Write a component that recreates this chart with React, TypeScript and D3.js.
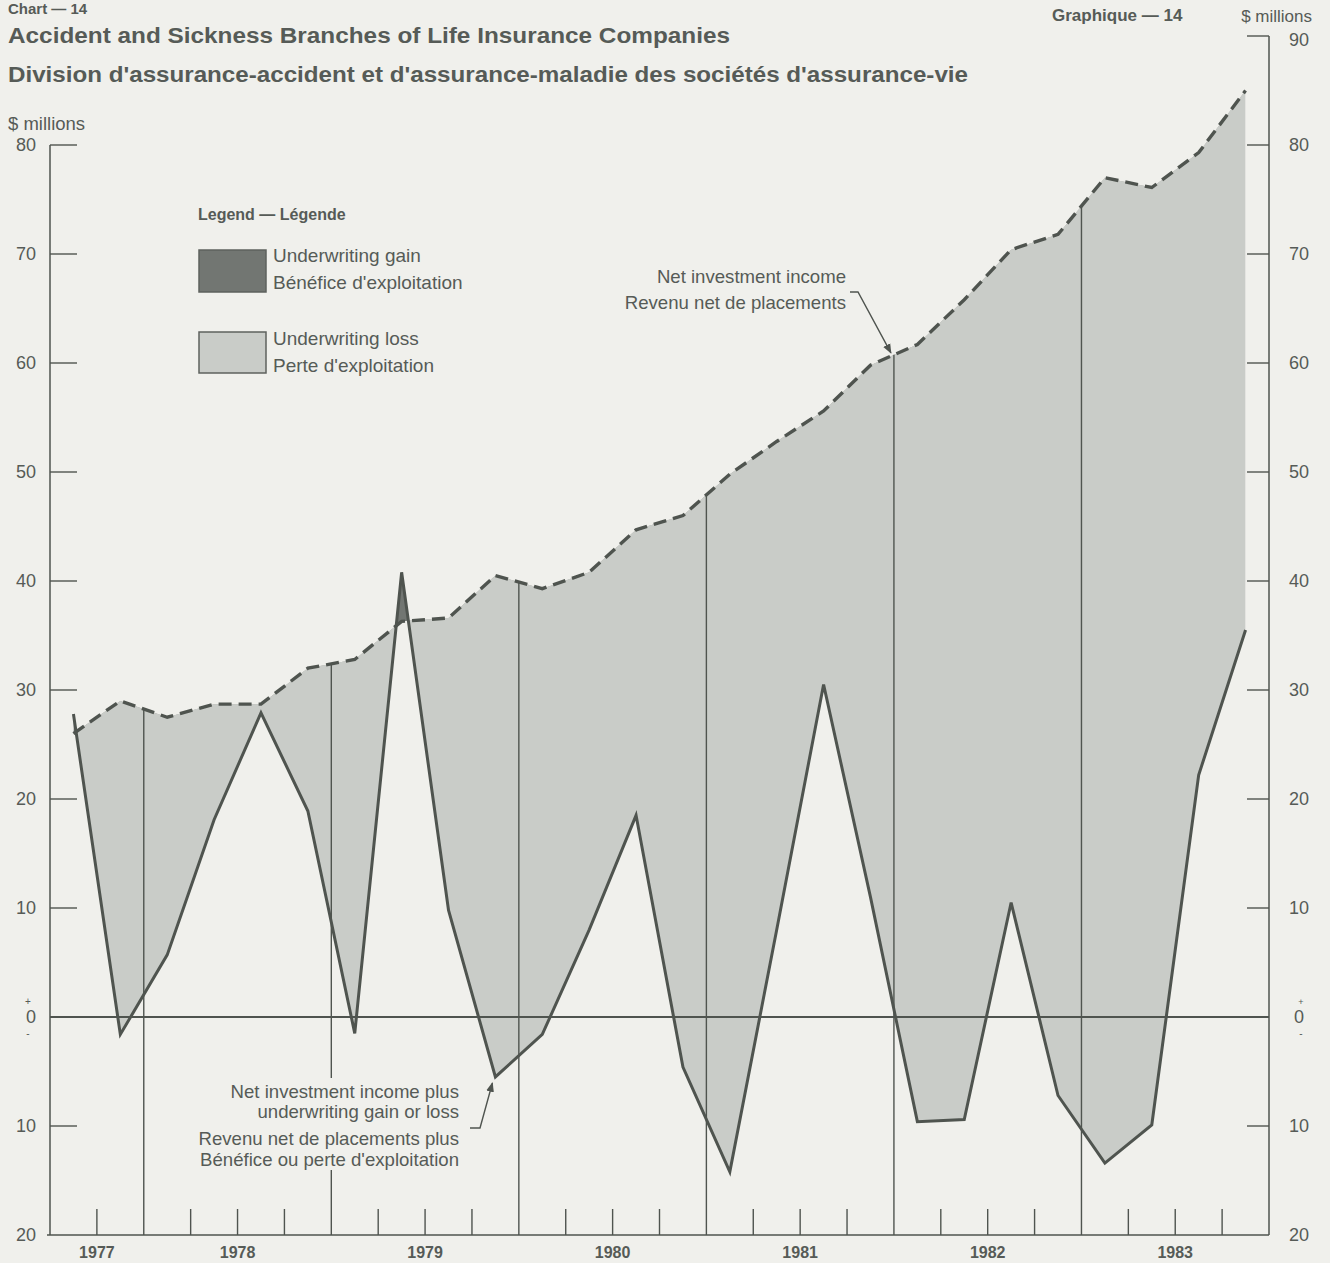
import { useEffect } from 'react';
import * as d3 from 'd3';

// quarterly data, 1977 Q3 .. 1983 Q4 ($ millions)
const quarters = [
  "1977 Q3", "1977 Q4",
  "1978 Q1", "1978 Q2", "1978 Q3", "1978 Q4",
  "1979 Q1", "1979 Q2", "1979 Q3", "1979 Q4",
  "1980 Q1", "1980 Q2", "1980 Q3", "1980 Q4",
  "1981 Q1", "1981 Q2", "1981 Q3", "1981 Q4",
  "1982 Q1", "1982 Q2", "1982 Q3", "1982 Q4",
  "1983 Q1", "1983 Q2", "1983 Q3", "1983 Q4"
];
const netInvestmentIncome = [
  26, 29,
  27.5, 28.7, 28.7, 32,
  32.8, 36.3, 36.6, 40.5,
  39.3, 40.8, 44.7, 46,
  49.8, 52.8, 55.6, 59.8,
  61.7, 65.8, 70.4, 71.8,
  77, 76.1, 79.3, 85
];
const netIncomePlusUnderwriting = [
  27.8, -1.6,
  5.7, 18.1, 27.9, 18.9,
  -1.5, 40.8, 9.8, -5.5,
  -1.6, 8, 18.5, -4.6,
  -14.2, 8, 30.5, 11,
  -9.6, -9.4, 10.5, -7.2,
  -13.4, -9.9, 22.2, 35.5
];
const years = [1977, 1978, 1979, 1980, 1981, 1982, 1983];
const leftTicks = [80, 70, 60, 50, 40, 30, 20, 10, 0, -10, -20];
const rightTicks = [90, 80, 70, 60, 50, 40, 30, 20, 10, 0, -10, -20];

const W = 1330;
const H = 1263;
const BG = "#f0f0ec";
const INK = "#4f544f";
const TEXT = "#565b57";
const LIGHT = "#c9ccc8";
const DARK = "#727672";
const FONT = "'Liberation Sans', Arial, Helvetica, sans-serif";

type Pt = { t: number; nii: number; comb: number };

const toYear = (q: string) => +q.slice(0, 4) + (+q.slice(-1) - 1) / 4 + 0.125;

const points: Pt[] = quarters.map((q, i) => ({
  t: toYear(q),
  nii: netInvestmentIncome[i],
  comb: netIncomePlusUnderwriting[i],
}));

const x = d3.scaleLinear().domain([1977.5, 1984]).range([50, 1269]);
const y = d3.scaleLinear().domain([-20, 90]).range([1235, 36]);

// value of a series at any time, linear between quarter points
function valueAt(t: number, key: 'nii' | 'comb') {
  const i = d3.bisector((d: Pt) => d.t).right(points, t);
  const a = points[Math.max(0, i - 1)];
  const b = points[Math.min(points.length - 1, i)];
  if (a === b) return a[key];
  return a[key] + ((t - a.t) / (b.t - a.t)) * (b[key] - a[key]);
}

const label = (v: number) => String(Math.abs(v));

export default function App() {
  useEffect(() => {
    document.body.style.margin = "0";
    document.body.style.background = BG;
  }, []);

  const band = d3.area<Pt>()
    .x(d => x(d.t))
    .y0(d => y(d.nii))
    .y1(d => y(d.comb));
  const clipAbove = d3.area<Pt>().x(d => x(d.t)).y0(0).y1(d => y(d.nii));
  const clipBelow = d3.area<Pt>().x(d => x(d.t)).y0(H).y1(d => y(d.nii));
  const niiLine = d3.line<Pt>().x(d => x(d.t)).y(d => y(d.nii));
  const combLine = d3.line<Pt>().x(d => x(d.t)).y(d => y(d.comb));

  const yearStarts = years.slice(1);
  const quarterTicks = d3.range(1977.75, 1984, 0.25).filter(t => Math.abs(t - Math.round(t)) > 0.01);
  const yBase = y(-20);

  // annotation anchors
  const niiTip = { x: x(1982) - 3, y: y(valueAt(1982, 'nii')) - 2 };
  const combTip = points[9];

  return (
    <svg width={W} height={H} style={{ display: 'block', fontFamily: FONT }}>
      <defs>
        <clipPath id="above"><path d={clipAbove(points) || ''} /></clipPath>
        <clipPath id="below"><path d={clipBelow(points) || ''} /></clipPath>
        <marker id="arrow" viewBox="0 0 10 10" refX="9" refY="5" markerWidth="7" markerHeight="7" orient="auto">
          <path d="M0,1 L10,5 L0,9 Z" fill={INK} />
        </marker>
      </defs>
      <rect width={W} height={H} fill={BG} />

      {/* difference areas */}
      <path d={band(points) || ''} fill={LIGHT} clipPath="url(#below)" />
      <path d={band(points) || ''} fill={DARK} clipPath="url(#above)" />

      {/* year boundary lines up to net investment income */}
      {yearStarts.map(t => (
        <line key={t} x1={x(t)} x2={x(t)} y1={yBase} y2={y(valueAt(t, 'nii'))} stroke={INK} strokeWidth={1.4} />
      ))}
      {quarterTicks.map(t => (
        <line key={t} x1={x(t)} x2={x(t)} y1={yBase} y2={yBase - 26} stroke={INK} strokeWidth={1.4} />
      ))}

      {/* axes */}
      <line x1={x.range()[0]} x2={x.range()[0]} y1={y(80)} y2={yBase} stroke={INK} strokeWidth={1.5} />
      <line x1={x.range()[1]} x2={x.range()[1]} y1={y(90)} y2={yBase} stroke={INK} strokeWidth={1.5} />
      <line x1={x.range()[0] - 3} x2={x.range()[1]} y1={yBase} y2={yBase} stroke={INK} strokeWidth={1.5} />
      <line x1={x.range()[0]} x2={x.range()[1]} y1={y(0)} y2={y(0)} stroke={INK} strokeWidth={2} />
      {leftTicks.map(v => (
        <g key={v}>
          {v !== 0 && v !== -20 && (
            <line x1={x.range()[0]} x2={x.range()[0] + 27} y1={y(v)} y2={y(v)} stroke={INK} strokeWidth={1.4} />
          )}
          <text x={36} y={y(v)} dy="0.35em" textAnchor="end" fontSize={18} fill={TEXT}>{label(v)}</text>
        </g>
      ))}
      {rightTicks.map(v => (
        <g key={v}>
          {v !== 0 && v !== -20 && (
            <line x1={x.range()[1] - 22} x2={x.range()[1]} y1={y(v)} y2={y(v)} stroke={INK} strokeWidth={1.4} />
          )}
          <text x={1299} y={y(v) + (v === 90 ? 4 : 0)} dy="0.35em" textAnchor="middle" fontSize={18} fill={TEXT}>{label(v)}</text>
        </g>
      ))}
      <text x={28} y={y(0) - 12} textAnchor="middle" fontSize={10} fill={TEXT}>+</text>
      <text x={28} y={y(0) + 20} textAnchor="middle" fontSize={10} fill={TEXT}>-</text>
      <text x={1301} y={y(0) - 12} textAnchor="middle" fontSize={9} fill={TEXT}>+</text>
      <text x={1301} y={y(0) + 20} textAnchor="middle" fontSize={10} fill={TEXT}>-</text>

      {years.map(yr => {
        const a = Math.max(yr, 1977.5);
        return (
          <text key={yr} x={x((a + yr + 1) / 2)} y={1258} textAnchor="middle" fontSize={16} fontWeight="bold" fill={TEXT}>{yr}</text>
        );
      })}

      {/* series lines */}
      <path d={niiLine(points) || ''} fill="none" stroke={INK} strokeWidth={3.4} strokeDasharray="13,7" />
      <path d={combLine(points) || ''} fill="none" stroke={INK} strokeWidth={3} strokeLinejoin="miter" />

      {/* annotations */}
      <g fontSize={18.6} fill={TEXT} textAnchor="end">
        <text x={846} y={283}>Net investment income</text>
        <text x={846} y={309}>Revenu net de placements</text>
      </g>
      <polyline points={`850,292 858,292 ${niiTip.x},${niiTip.y}`} fill="none" stroke={INK} strokeWidth={1.4} markerEnd="url(#arrow)" />

      <rect x={190} y={1078} width={274} height={92} fill={BG} />
      <g fontSize={18.6} fill={TEXT} textAnchor="end">
        <text x={459} y={1098}>Net investment income plus</text>
        <text x={459} y={1118}>underwriting gain or loss</text>
        <text x={459} y={1145}>Revenu net de placements plus</text>
        <text x={459} y={1166}>Bénéfice ou perte d'exploitation</text>
      </g>
      <polyline points={`470,1128 480,1128 ${x(combTip.t) - 3},${y(combTip.comb) + 6}`} fill="none" stroke={INK} strokeWidth={1.4} markerEnd="url(#arrow)" />

      {/* legend */}
      <text x={198} y={220} fontSize={16} fontWeight="bold" fill={TEXT}>Legend — Légende</text>
      <rect x={199} y={250} width={67} height={42} fill={DARK} stroke="#5e625e" strokeWidth={1.5} />
      <text x={273} y={262} fontSize={19} fill={TEXT}>Underwriting gain</text>
      <text x={273} y={289} fontSize={19} fill={TEXT}>Bénéfice d'exploitation</text>
      <rect x={199} y={332} width={67} height={41} fill={LIGHT} stroke="#5e625e" strokeWidth={1.5} />
      <text x={273} y={345} fontSize={19} fill={TEXT}>Underwriting loss</text>
      <text x={273} y={372} fontSize={19} fill={TEXT}>Perte d'exploitation</text>

      {/* titles */}
      <text x={8} y={14} fontSize={15} fontWeight="bold" fill={TEXT}>Chart — 14</text>
      <text x={8} y={43} fontSize={22} fontWeight="bold" fill={TEXT} textLength={722} lengthAdjust="spacingAndGlyphs">Accident and Sickness Branches of Life Insurance Companies</text>
      <text x={8} y={82} fontSize={22} fontWeight="bold" fill={TEXT} textLength={960} lengthAdjust="spacingAndGlyphs">Division d'assurance-accident et d'assurance-maladie des sociétés d'assurance-vie</text>
      <text x={1052} y={21} fontSize={17} fontWeight="bold" fill={TEXT}>Graphique — 14</text>
      <text x={1312} y={22} fontSize={17} textAnchor="end" fill={TEXT}>$ millions</text>
      <text x={8} y={130} fontSize={18.5} fill={TEXT}>$ millions</text>
    </svg>
  );
}
